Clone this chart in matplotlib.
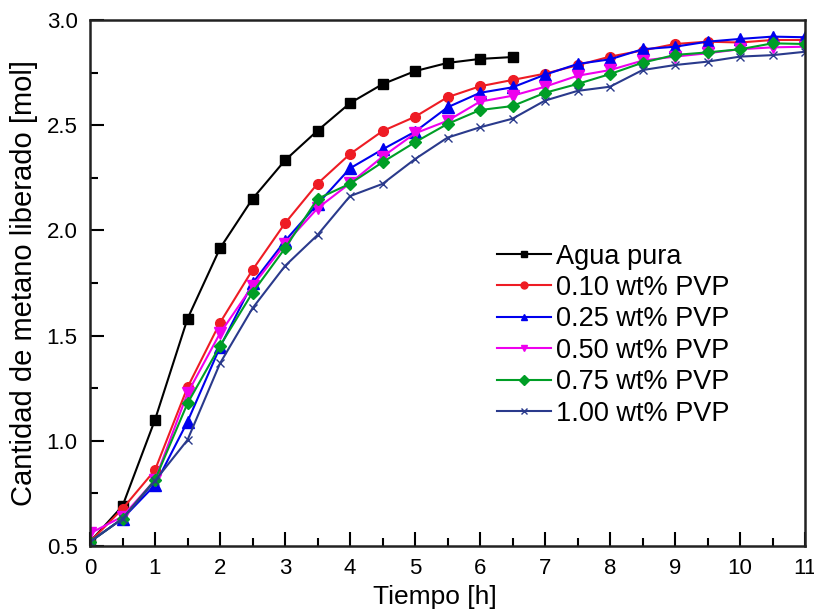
import matplotlib
matplotlib.use("Agg")
import matplotlib.pyplot as plt
from matplotlib.ticker import MultipleLocator

plt.rcParams['font.family'] = ['Liberation Sans', 'DejaVu Sans']

t_agua = [0, 0.5, 1, 1.5, 2, 2.5, 3, 3.5, 4, 4.5, 5, 5.5, 6, 6.5]
agua = [0.52, 0.69, 1.10, 1.58, 1.915, 2.15, 2.333, 2.474, 2.605, 2.695, 2.757, 2.796, 2.815, 2.824]

t = [0, 0.5, 1, 1.5, 2, 2.5, 3, 3.5, 4, 4.5, 5, 5.5, 6, 6.5, 7, 7.5, 8, 8.5, 9, 9.5, 10, 10.5, 11]
pvp010 = [0.52, 0.677, 0.861, 1.254, 1.561, 1.812, 2.034, 2.222, 2.363, 2.472, 2.540, 2.633, 2.685, 2.715,
          2.745, 2.785, 2.826, 2.855, 2.886, 2.897, 2.893, 2.905, 2.905]
pvp025 = [0.52, 0.63, 0.79, 1.091, 1.445, 1.749, 1.95, 2.125, 2.295, 2.385, 2.469, 2.585, 2.654, 2.680,
          2.740, 2.791, 2.813, 2.861, 2.873, 2.897, 2.910, 2.921, 2.918]
pvp050 = [0.56, 0.64, 0.814, 1.226, 1.511, 1.736, 1.935, 2.105, 2.224, 2.350, 2.461, 2.521, 2.612, 2.640,
          2.683, 2.735, 2.762, 2.807, 2.826, 2.842, 2.861, 2.870, 2.873]
pvp075 = [0.52, 0.63, 0.814, 1.178, 1.451, 1.704, 1.915, 2.150, 2.222, 2.324, 2.419, 2.506, 2.572, 2.591,
          2.654, 2.696, 2.743, 2.797, 2.834, 2.846, 2.861, 2.889, 2.886]
pvp100 = [0.52, 0.63, 0.81, 1.004, 1.368, 1.630, 1.831, 1.978, 2.163, 2.221, 2.339, 2.441, 2.490, 2.531,
          2.617, 2.663, 2.683, 2.762, 2.786, 2.802, 2.826, 2.833, 2.849]

labels = ['Agua pura', '0.10 wt% PVP', '0.25 wt% PVP', '0.50 wt% PVP', '0.75 wt% PVP', '1.00 wt% PVP']

fig = plt.figure(figsize=(8.14, 6.14), dpi=100)
ax = fig.add_axes([90/814, 1-546/614, (805-90)/814, (546-20)/614])

lw = 1.5
ax.plot(t_agua, agua, color='black', marker='s', ms=7, lw=lw, label=labels[0])
ax.plot(t, pvp010, color='#ee1c24', marker='o', ms=7, lw=lw, label=labels[1])
ax.plot(t, pvp025, color='#0000ee', marker='^', ms=8, lw=lw, label=labels[2])
ax.plot(t, pvp050, color='#ee00ee', marker='v', ms=8, lw=lw, label=labels[3])
ax.plot(t, pvp075, color='#009e26', marker='D', ms=6.5, lw=lw, label=labels[4])
ax.plot(t, pvp100, color='#2a3a8c', marker='x', ms=6, mew=1.0, lw=lw, label=labels[5])

ax.set_xlim(0, 11)
ax.set_ylim(0.5, 3.0)
ax.xaxis.set_major_locator(MultipleLocator(1))
ax.xaxis.set_minor_locator(MultipleLocator(0.5))
ax.yaxis.set_major_locator(MultipleLocator(0.5))
ax.yaxis.set_minor_locator(MultipleLocator(0.25))
ax.yaxis.set_major_formatter(matplotlib.ticker.FormatStrFormatter('%.1f'))
ax.tick_params(which='both', direction='in', top=False, right=False, width=1.5, labelsize=16)
ax.tick_params(which='major', length=10, pad=9)
ax.tick_params(which='minor', length=6)
for s in ax.spines.values():
    s.set_linewidth(1.8)
    s.set_color('#222222')

ax.set_xlabel('Tiempo [h]', fontsize=19, labelpad=3)
ax.xaxis.set_label_coords(0.483, -0.075)
ax.set_ylabel('Cantidad de metano liberado [mol]', fontsize=21, labelpad=6)

leg = ax.legend(loc='upper left', bbox_to_anchor=(0.569, 0.575), frameon=False, fontsize=19.5,
                handlelength=2.0, handletextpad=0.2, labelspacing=0.2, borderpad=0, borderaxespad=0)
for h in leg.legend_handles:
    h.set_markersize(5)

fig.savefig('out.png', dpi=100)
